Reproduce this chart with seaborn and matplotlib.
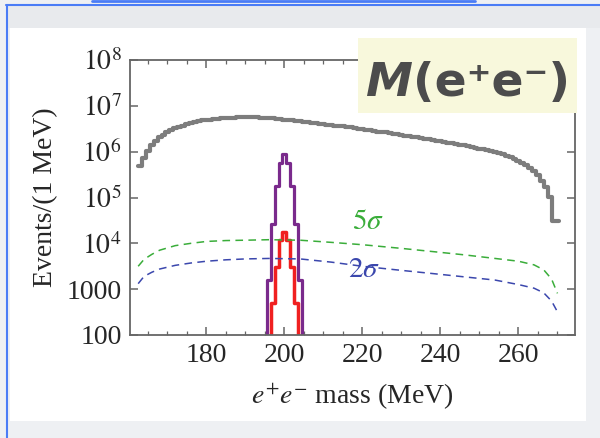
import numpy as np
import matplotlib
matplotlib.use("Agg")
import matplotlib.pyplot as plt
import seaborn as sns
from matplotlib.patches import Rectangle
from matplotlib.lines import Line2D
from matplotlib.text import Annotation
from matplotlib.ticker import FixedLocator, FixedFormatter, MultipleLocator, LogLocator, NullFormatter

# background: events per 1 MeV bin, bin centres 163 ... 270 MeV
bkg_mass = np.arange(163, 271)
bkg_events = [
    4.8e5, 7.2e5, 1.05e6, 1.38e6, 1.70e6, 2.04e6, 2.34e6, 2.63e6, 2.95e6, 3.24e6,   # 163-172
    3.47e6, 3.72e6, 3.98e6, 4.17e6, 4.37e6, 4.57e6, 4.79e6, 4.90e6, 5.01e6, 5.13e6,  # 173-182
    5.25e6, 5.37e6, 5.37e6, 5.50e6, 5.50e6, 5.62e6, 5.62e6, 5.62e6, 5.62e6, 5.62e6,  # 183-192
    5.62e6, 5.50e6, 5.50e6, 5.50e6, 5.37e6, 5.25e6, 5.13e6, 5.01e6, 4.90e6, 4.79e6,  # 193-202
    4.68e6, 4.57e6, 4.47e6, 4.37e6, 4.27e6, 4.17e6, 4.07e6, 3.98e6, 3.89e6, 3.80e6,  # 203-212
    3.72e6, 3.63e6, 3.55e6, 3.47e6, 3.39e6, 3.31e6, 3.16e6, 3.09e6, 3.02e6, 2.95e6,  # 213-222
    2.88e6, 2.75e6, 2.69e6, 2.63e6, 2.51e6, 2.45e6, 2.40e6, 2.34e6, 2.24e6, 2.19e6,  # 223-232
    2.14e6, 2.04e6, 2.00e6, 1.91e6, 1.86e6, 1.82e6, 1.74e6, 1.70e6, 1.62e6, 1.58e6,  # 233-242
    1.51e6, 1.48e6, 1.41e6, 1.38e6, 1.32e6, 1.29e6, 1.23e6, 1.17e6, 1.12e6, 1.07e6,  # 243-252
    1.02e6, 9.77e5, 9.33e5, 8.71e5, 8.13e5, 7.59e5, 6.92e5, 6.31e5, 5.62e5, 5.01e5,  # 253-262
    4.37e5, 3.72e5, 3.02e5, 2.34e5, 1.66e5, 1.05e5, 3.0e4, 3.0e4,                    # 263-270
]

# signal peaks at 200 MeV (zero bins close the outline)
sig_mass = np.arange(195, 206)
sig_purple = [0, 1.6e3, 2.7e4, 1.8e5, 5.8e5, 9.0e5, 5.8e5, 1.8e5, 2.7e4, 1.6e3, 0]
sig_red = [0, 0, 490, 3.1e3, 1.2e4, 1.8e4, 1.2e4, 3.1e3, 490, 0, 0]

# sensitivity curves
sens_mass = [162.5, 164, 166, 168, 172, 176, 180, 185, 190, 196, 204,
             212, 220, 230, 238, 246, 254, 260, 264, 266.5, 268.5, 270]
sens_5sigma = [3160, 4470, 5750, 7080, 8910, 10000, 11000, 11500, 11700, 12000, 11700,
               10500, 9330, 7760, 6610, 5620, 4680, 4070, 3390, 2630, 1660, 810]
sens_2sigma = [1320, 1900, 2340, 2750, 3310, 3720, 4070, 4370, 4570, 4680, 4570,
               3890, 3160, 2570, 2190, 1860, 1580, 1260, 1050, 830, 550, 320]

ytick_vals = [1e2, 1e3, 1e4, 1e5, 1e6, 1e7, 1e8]
ytick_labels = ["100", "1000", r"$10^{4}$", r"$10^{5}$", r"$10^{6}$", r"$10^{7}$", r"$10^{8}$"]


def step_outline(centres, counts):
    # bin edges + repeated last count, for a steps-post line
    edges = np.append(np.asarray(centres) - 0.5, centres[-1] + 0.5)
    return edges, list(counts) + [counts[-1]]


sns.set_style("ticks")
plt.rcParams["font.family"] = ["Liberation Serif", "DejaVu Serif"]
plt.rcParams["mathtext.fontset"] = "stix"

W, H = 600, 438
fig = plt.figure(figsize=(6, 4.38), dpi=100, facecolor="#eef0f3")
fig.add_artist(Rectangle((6 / W, 1 - 28 / H), 1, 22 / H, transform=fig.transFigure,
                         facecolor="#e8eaed", edgecolor="none", zorder=-3))
fig.add_artist(Rectangle((10 / W, 1 - 421 / H), 576 / W, 393 / H, transform=fig.transFigure,
                         facecolor="white", edgecolor="none", zorder=-2))
blue = "#4a7cf6"
fig.add_artist(Line2D([6.5 / W, 6.5 / W], [0, 1 - 5 / H], color=blue, lw=1.5, transform=fig.transFigure))
fig.add_artist(Line2D([6 / W, 1], [1 - 5 / H, 1 - 5 / H], color=blue, lw=1.5, transform=fig.transFigure))
fig.add_artist(Line2D([92 / W, 475 / W], [1 - 0.5 / H, 1 - 0.5 / H], color=blue, lw=2, transform=fig.transFigure))

ax = fig.add_axes([130 / W, 1 - 335 / H, 445 / W, 275 / H])
ax.set_facecolor("white")

x, y = step_outline(bkg_mass, bkg_events)
sns.lineplot(x=x, y=y, drawstyle="steps-post", color="#7d7d7d", linewidth=3.0, ax=ax)
x, y = step_outline(sig_mass, sig_purple)
sns.lineplot(x=x, y=y, drawstyle="steps-post", color="#7a2a8c", linewidth=2.3, ax=ax)
x, y = step_outline(sig_mass, sig_red)
sns.lineplot(x=x, y=y, drawstyle="steps-post", color="#f02020", linewidth=2.5, ax=ax)
sns.lineplot(x=sens_mass, y=sens_5sigma, color="#3aad3a", linewidth=1.1,
             linestyle=(0, (5, 3.5)), ax=ax)
sns.lineplot(x=sens_mass, y=sens_2sigma, color="#3b47ad", linewidth=1.1,
             linestyle=(0, (5, 3.5)), ax=ax)

ax.text(221.5, 10 ** 4.47, r"$5\sigma$", color="#3aad3a", fontsize=21, ha="center", va="center")
ax.text(220.3, 10 ** 3.42, r"$2\sigma$", color="#3b47ad", fontsize=21, ha="center", va="center")

ax.set_yscale("log")
ax.set_xlim(160.4, 274.5)
ax.set_ylim(100, 1e8)
ax.yaxis.set_major_locator(FixedLocator(ytick_vals))
ax.yaxis.set_major_formatter(FixedFormatter(ytick_labels))
ax.yaxis.set_minor_locator(LogLocator(base=10, subs=np.arange(2, 10)))
ax.yaxis.set_minor_formatter(NullFormatter())
ax.xaxis.set_major_locator(MultipleLocator(20))
ax.xaxis.set_minor_locator(MultipleLocator(5))

for s in ax.spines.values():
    s.set_color("#666666")
    s.set_linewidth(1.3)
ax.tick_params(which="both", direction="in", top=True, right=True, color="#666666")
ax.tick_params(which="major", length=6, width=1.1, labelsize=20, pad=6)
ax.tick_params(which="minor", length=3, width=0.9)
ax.set_xlabel(r"$e^{+}e^{-}$ mass (MeV)", fontsize=20, labelpad=9)
ax.set_ylabel("Events/(1 MeV)", fontsize=20, labelpad=6)

# title badge
fig.add_artist(Rectangle((358 / W, 1 - 113 / H), 219 / W, 75 / H, transform=fig.transFigure,
                         facecolor="#f8f8dc", edgecolor="none", zorder=3))
t1 = fig.text(366 / W, 1 - 106 / H, "M", fontsize=34, fontweight="bold", style="italic",
              color="#4c4c4c", family="DejaVu Sans", va="bottom", ha="left", zorder=5)
fig.add_artist(Annotation("(e\u207ae\u207b)", xy=(1, 0), xycoords=t1, va="bottom", ha="left",
                          fontsize=34, fontweight="bold", color="#4c4c4c",
                          family="DejaVu Sans", zorder=5))

fig.savefig("out.png", dpi=100, facecolor=fig.get_facecolor())
